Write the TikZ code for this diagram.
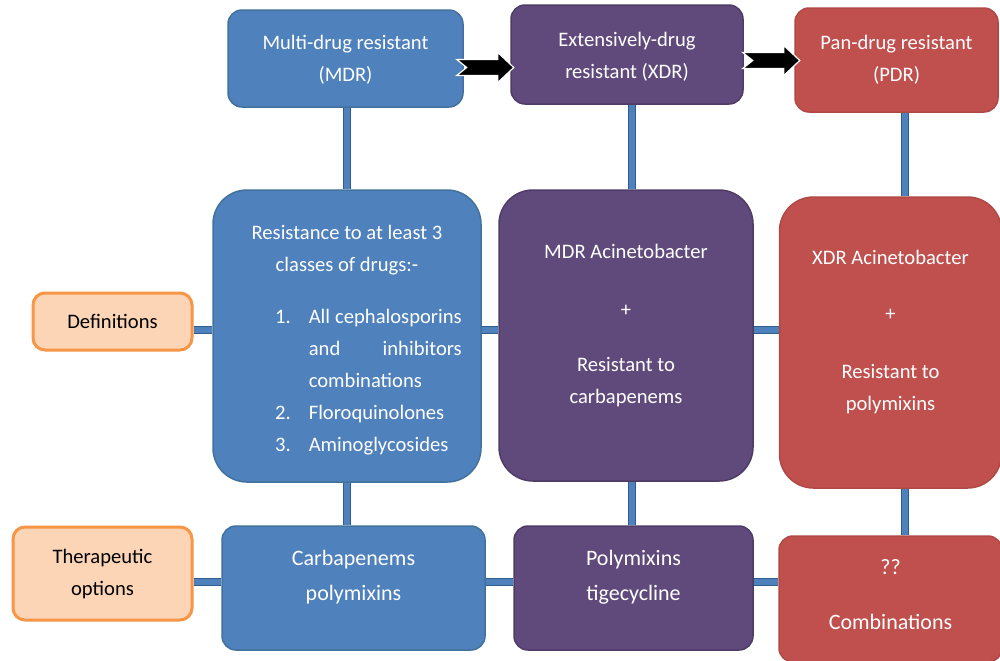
\documentclass[tikz,border=0pt]{standalone}
\usepackage{fontspec}
\setmainfont{Carlito}
\usetikzlibrary{backgrounds}

\definecolor{mdrblue}{HTML}{4F81BD}
\definecolor{mdredge}{HTML}{41719C}
\definecolor{xdrpurple}{HTML}{604A7B}
\definecolor{xdredge}{HTML}{4E3B66}
\definecolor{pdrred}{HTML}{C0504D}
\definecolor{pdredge}{HTML}{B04845}
\definecolor{peach}{HTML}{FBD5B5}
\definecolor{peachedge}{HTML}{F79646}
\definecolor{linkedge}{HTML}{2E5C8E}
\hyphenpenalty=10000

% block arrow with a notched tail, #1 = tail top corner
\newcommand\notcharrow[1]{\filldraw[fill=black,draw=white,line width=0.6pt] #1 -- ++(41,0) -- ++(0,-7) -- ++(16,15) -- ++(-16,15) -- ++(0,-7) -- ++(-41,0) -- ++(10,-8) -- cycle;}

\tikzset{
  box/.style={draw, line width=0.75pt, text=white, align=center, inner sep=0pt, font=\fontsize{10.3}{16}\selectfont},
  mdrbox/.style={box, fill=mdrblue, draw=mdredge},
  xdrbox/.style={box, fill=xdrpurple, draw=xdredge},
  pdrbox/.style={box, fill=pdrred, draw=pdredge},
  defbox/.style={box, fill=peach, draw=peachedge, line width=1.5pt, text=black, rounded corners=6pt},
  link/.style={draw=linkedge, double=mdrblue, line width=0.7pt, double distance=2.6pt}
}

\begin{document}
\begin{tikzpicture}[x=0.5pt,y=-0.5pt]
\useasboundingbox (0,0) rectangle (1000,660);

% top row
\node[mdrbox, rounded corners=7pt, minimum width=117.5pt, minimum height=48.5pt] (mdr) at (345.5,58.5) {Multi-drug resistant\\(MDR)\\[-16pt]\mbox{}};
\node[xdrbox, rounded corners=7pt, minimum width=116pt, minimum height=49.5pt] (xdr) at (627,54.5) {Extensively-drug\\resistant (XDR)\\[-17pt]\mbox{}};
\node[pdrbox, rounded corners=7pt, minimum width=101.5pt, minimum height=52pt] (pdr) at (896.5,60) {Pan-drug resistant\\(PDR)\\[-14.5pt]\mbox{}};

% definitions row
\node[defbox, minimum width=79.5pt, minimum height=28.5pt] (defs) at (112.5,321.5) {Definitions};
\node[mdrbox, rounded corners=17pt, minimum width=134pt, minimum height=146pt] (mdrdef) at (347,336) {Resistance to at least 3\\classes of drugs:-\\[10pt]\hspace*{21.5pt}\raisebox{0pt}[\height][\dimexpr\depth-7pt\relax]{\begin{tabular}[t]{@{}r@{\hspace{9pt}}p{76.5pt}@{}}1.&All cephalosporins and inhibitors combinations\\2.&Floroquinolones\\3.&Aminoglycosides\end{tabular}}};
\node[xdrbox, rounded corners=17pt, minimum width=127pt, minimum height=145.5pt] (xdrdef) at (626,335.5) {MDR Acinetobacter\\[13pt]+\\[11.5pt]Resistant to\\carbapenems\\[-4.5pt]\mbox{}};
\node[pdrbox, rounded corners=17pt, minimum width=111pt, minimum height=145.5pt] (pdrdef) at (890.5,342.5) {XDR Acinetobacter\\[12pt]+\\[13pt]Resistant to\\polymixins\\[-4pt]\mbox{}};

% therapeutic row
\node[defbox, minimum width=89.5pt, minimum height=46.5pt] (ther) at (102.5,573.5) {Therapeutic\\options};
\node[mdrbox, rounded corners=7pt, minimum width=131.5pt, minimum height=62pt, font=\fontsize{11}{17.5}\selectfont] (mdrtx) at (353.5,588) {Carbapenems\\polymixins\\[-4.5pt]\mbox{}};
\node[xdrbox, rounded corners=7pt, minimum width=119.5pt, minimum height=62pt, font=\fontsize{11}{17.5}\selectfont] (xdrtx) at (633.5,588) {Polymixins\\tigecycline\\[-4.5pt]\mbox{}};
\node[pdrbox, rounded corners=7pt, minimum width=111.5pt, minimum height=63pt, font=\fontsize{11}{17.5}\selectfont] (pdrtx) at (890.5,599) {??\\[10pt]Combinations\\[-12.5pt]\mbox{}};

\coordinate (row1) at (0,330);
\coordinate (row2) at (0,582);
\coordinate (col1) at (347,0);
\coordinate (col2) at (632,0);
\coordinate (col3) at (905,0);

\begin{scope}[on background layer]
\fill[white] (0,0) rectangle (1000,660);
\draw[link] (mdr.south -| col1) -- (mdrdef.north -| col1);
\draw[link] (mdrdef.south -| col1) -- (mdrtx.north -| col1);
\draw[link] (xdr.south -| col2) -- (xdrdef.north -| col2);
\draw[link] (xdrdef.south -| col2) -- (xdrtx.north -| col2);
\draw[link] (pdr.south -| col3) -- (pdrdef.north -| col3);
\draw[link] (pdrdef.south -| col3) -- (pdrtx.north -| col3);
\draw[link] (defs.east |- row1) -- (mdrdef.west |- row1);
\draw[link] (mdrdef.east |- row1) -- (xdrdef.west |- row1);
\draw[link] (xdrdef.east |- row1) -- (pdrdef.west |- row1);
\draw[link] (ther.east |- row2) -- (mdrtx.west |- row2);
\draw[link] (mdrtx.east |- row2) -- (xdrtx.west |- row2);
\draw[link] (xdrtx.east |- row2) -- (pdrtx.west |- row2);
\end{scope}

\notcharrow{(mdr.east) ++(-7,1)}
\notcharrow{(xdr.east) ++(-1,-2)}
\end{tikzpicture}
\end{document}
